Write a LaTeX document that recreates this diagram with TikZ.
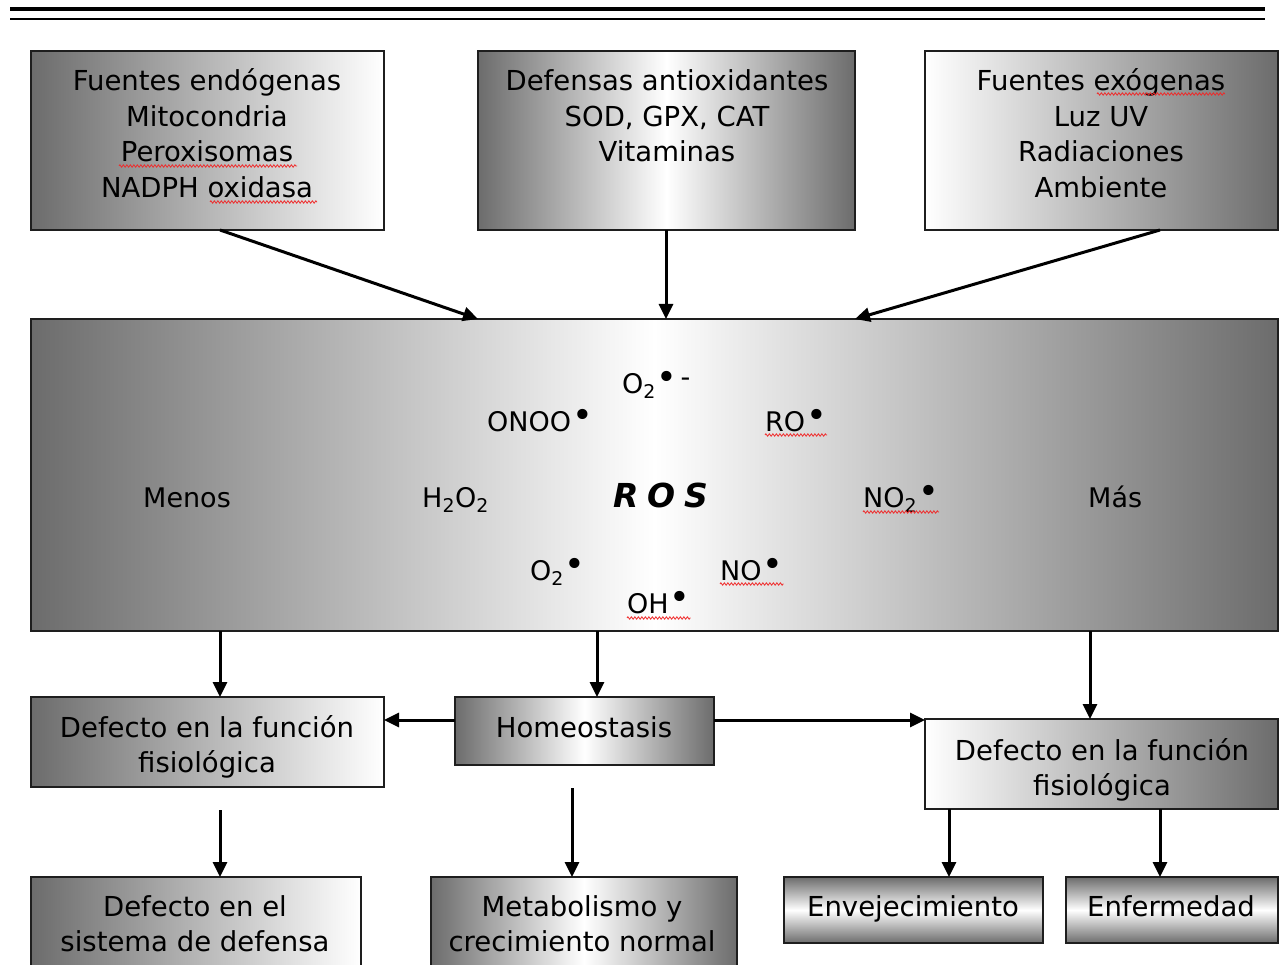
\documentclass[tikz,border=0pt]{standalone}
\usepackage{fontspec}
\usepackage{graphicx}
\setmainfont{DejaVu Sans}
\usetikzlibrary{arrows.meta,calc,decorations.pathmorphing}
\definecolor{dk}{RGB}{108,108,108}
\definecolor{edgec}{RGB}{30,30,30}
\definecolor{sqc}{RGB}{240,40,40}
\newcommand\rad{\kern1pt\raisebox{4pt}{\scalebox{1.3}{•}}}
\begin{document}
\begin{tikzpicture}[x=1pt,y=-1pt,
  box/.style={draw=edgec,line width=1.4pt,rectangle,anchor=north west,inner sep=0pt,outer sep=0pt},
  lr/.style={left color=dk,right color=white},
  rl/.style={left color=white,right color=dk},
  hm/.style={left color=dk,right color=dk,middle color=white},
  vm/.style={top color=dk,bottom color=dk,middle color=white},
  txt/.style={align=center,anchor=base,inner sep=0pt,font=\fontsize{27.5}{35.5}\selectfont},
  chem/.style={anchor=base west,inner sep=0pt,font=\fontsize{27}{32}\selectfont},
  arr/.style={line width=3pt,-{Triangle[length=15pt,width=14pt]}},
  sqg/.style={draw=sqc,line width=0.8pt,decorate,decoration={zigzag,segment length=3.5pt,amplitude=1.2pt}},
  rule/.style={draw=black}
]
\clip (0,0) rectangle (1279,965);
\fill[white] (0,0) rectangle (1279,965);

% header rules
\coordinate (r1a) at (10,9);  \coordinate (r1b) at (1265,9);
\coordinate (r2a) at (10,19); \coordinate (r2b) at (1265,19);
\draw[rule,line width=4.5pt] (r1a) -- (r1b);
\draw[rule,line width=2pt] (r2a) -- (r2b);

% boxes
\node[box,lr,minimum width=353pt,minimum height=179pt] (b1) at (31,51) {};
\node[box,hm,minimum width=377pt,minimum height=179pt] (b2) at (478,51) {};
\node[box,rl,minimum width=353pt,minimum height=179pt] (b3) at (925,51) {};
\node[box,hm,minimum width=1247pt,minimum height=312pt] (ros) at (31,319) {};
\node[box,lr,minimum width=353pt,minimum height=90pt] (dl) at (31,697) {};
\node[box,hm,minimum width=259pt,minimum height=68pt] (hom) at (455,697) {};
\node[box,rl,minimum width=353pt,minimum height=90pt] (dr) at (925,719) {};
\node[box,lr,minimum width=330pt,minimum height=100pt] (bl) at (31,877) {};
\node[box,hm,minimum width=306pt,minimum height=100pt] (met) at (431,877) {};
\node[box,vm,minimum width=259pt,minimum height=66pt] (env) at (784,877) {};
\node[box,vm,minimum width=212pt,minimum height=66pt] (enf) at (1066,877) {};

% box texts (anchor = baseline of last line)
\node[txt] (t1) at (207,197.5) {Fuentes endógenas\\Mitocondria\\Peroxisomas\\NADPH oxidasa};
\node[txt] (t2) at (667,162) {Defensas antioxidantes\\SOD, GPX, CAT\\Vitaminas};
\node[txt] (t3) at (1101,197.5) {Fuentes exógenas\\Luz UV\\Radiaciones\\Ambiente};
\node[txt] (tdl) at (207,772.5) {Defecto en la función\\fisiológica};
\node[txt] (thom) at (584,737) {Homeostasis};
\node[txt] (tdr) at (1102,795.5) {Defecto en la función\\fisiológica};
\node[txt] (tbl) at (195,951.5) {Defecto en el\\sistema de defensa};
\node[txt] (tmet) at (582,951.5) {Metabolismo y\\crecimiento normal};
\node[txt] (tenv) at (913,916) {Envejecimiento};
\node[txt] (tenf) at (1171,916) {Enfermedad};

% ROS contents
\node[chem] (o2m) at (622,393) {O\textsubscript{2}\rad\kern3pt\raisebox{7pt}{-}};
\node[chem] (onoo) at (487,431) {ONOO\rad};
\node[chem] (ro) at (765,431) {RO\rad};
\node[chem] (menos) at (143,507) {Menos};
\node[chem] (h2o2) at (422,507) {H\textsubscript{2}O\textsubscript{2}};
\node[anchor=base,inner sep=0pt,font=\fontsize{33}{33}\selectfont\bfseries\itshape] (rosl) at (661,507) {R\kern9pt O\kern9pt S};
\node[chem] (no2) at (863,507) {NO\textsubscript{2}\rad};
\node[chem] (mas) at (1088,507) {Más};
\node[chem] (o2) at (530,580) {O\textsubscript{2}\rad};
\node[chem] (no) at (720,580) {NO\rad};
\node[chem] (oh) at (627,613) {OH\rad};

% spell-check squiggles
\draw[sqg] (119,166) -- (297,166);
\draw[sqg] (210,202) -- (317,202);
\draw[sqg] (1097,94) -- (1225,94);
\draw[sqg] ($(ro.base west)+(0,4)$) -- ($(ro.base east)+(0,4)$);
\draw[sqg] ($(no2.base west)+(0,5)$) -- ($(no2.base east)+(0,5)$);
\draw[sqg] ($(no.base west)+(0,4)$) -- ($(no.base east)+(0,4)$);
\draw[sqg] ($(oh.base west)+(0,5)$) -- ($(oh.base east)+(0,5)$);

% connectors top
\draw[arr] ($(b1.south west)+(189,0)$) -- ($(ros.north west)+(447,0)$);
\draw[arr] ($(b2.south west)+(188,0)$) -- ($(ros.north west)+(635,0)$);
\draw[arr] ($(b3.south west)+(235,0)$) -- ($(ros.north west)+(824,0)$);

% connectors from ROS
\draw[arr] ($(ros.south west)+(189,0)$) -- ($(dl.north west)+(189,0)$);
\draw[arr] ($(ros.south west)+(566,0)$) -- ($(hom.north west)+(142,0)$);
\draw[arr] ($(ros.south west)+(1059,0)$) -- ($(dr.north west)+(165,0)$);

% homeostasis sideways
\draw[arr] ($(hom.north west)+(0,23)$) -- ($(dl.north east)+(0,23)$);
\draw[arr] ($(hom.north east)+(0,23)$) -- ($(dr.north west)+(0,1)$);

% lower connectors
\coordinate (s1) at (220,810);
\coordinate (s2) at (572,788);
\draw[arr] (s1) -- (s1 |- bl.north);
\draw[arr] (s2) -- (s2 |- met.north);
\draw[arr] ($(dr.south west)+(24,0)$) -- ($(env.north west)+(165,0)$);
\draw[arr] ($(dr.south west)+(235,0)$) -- ($(enf.north west)+(94,0)$);
\end{tikzpicture}
\end{document}
